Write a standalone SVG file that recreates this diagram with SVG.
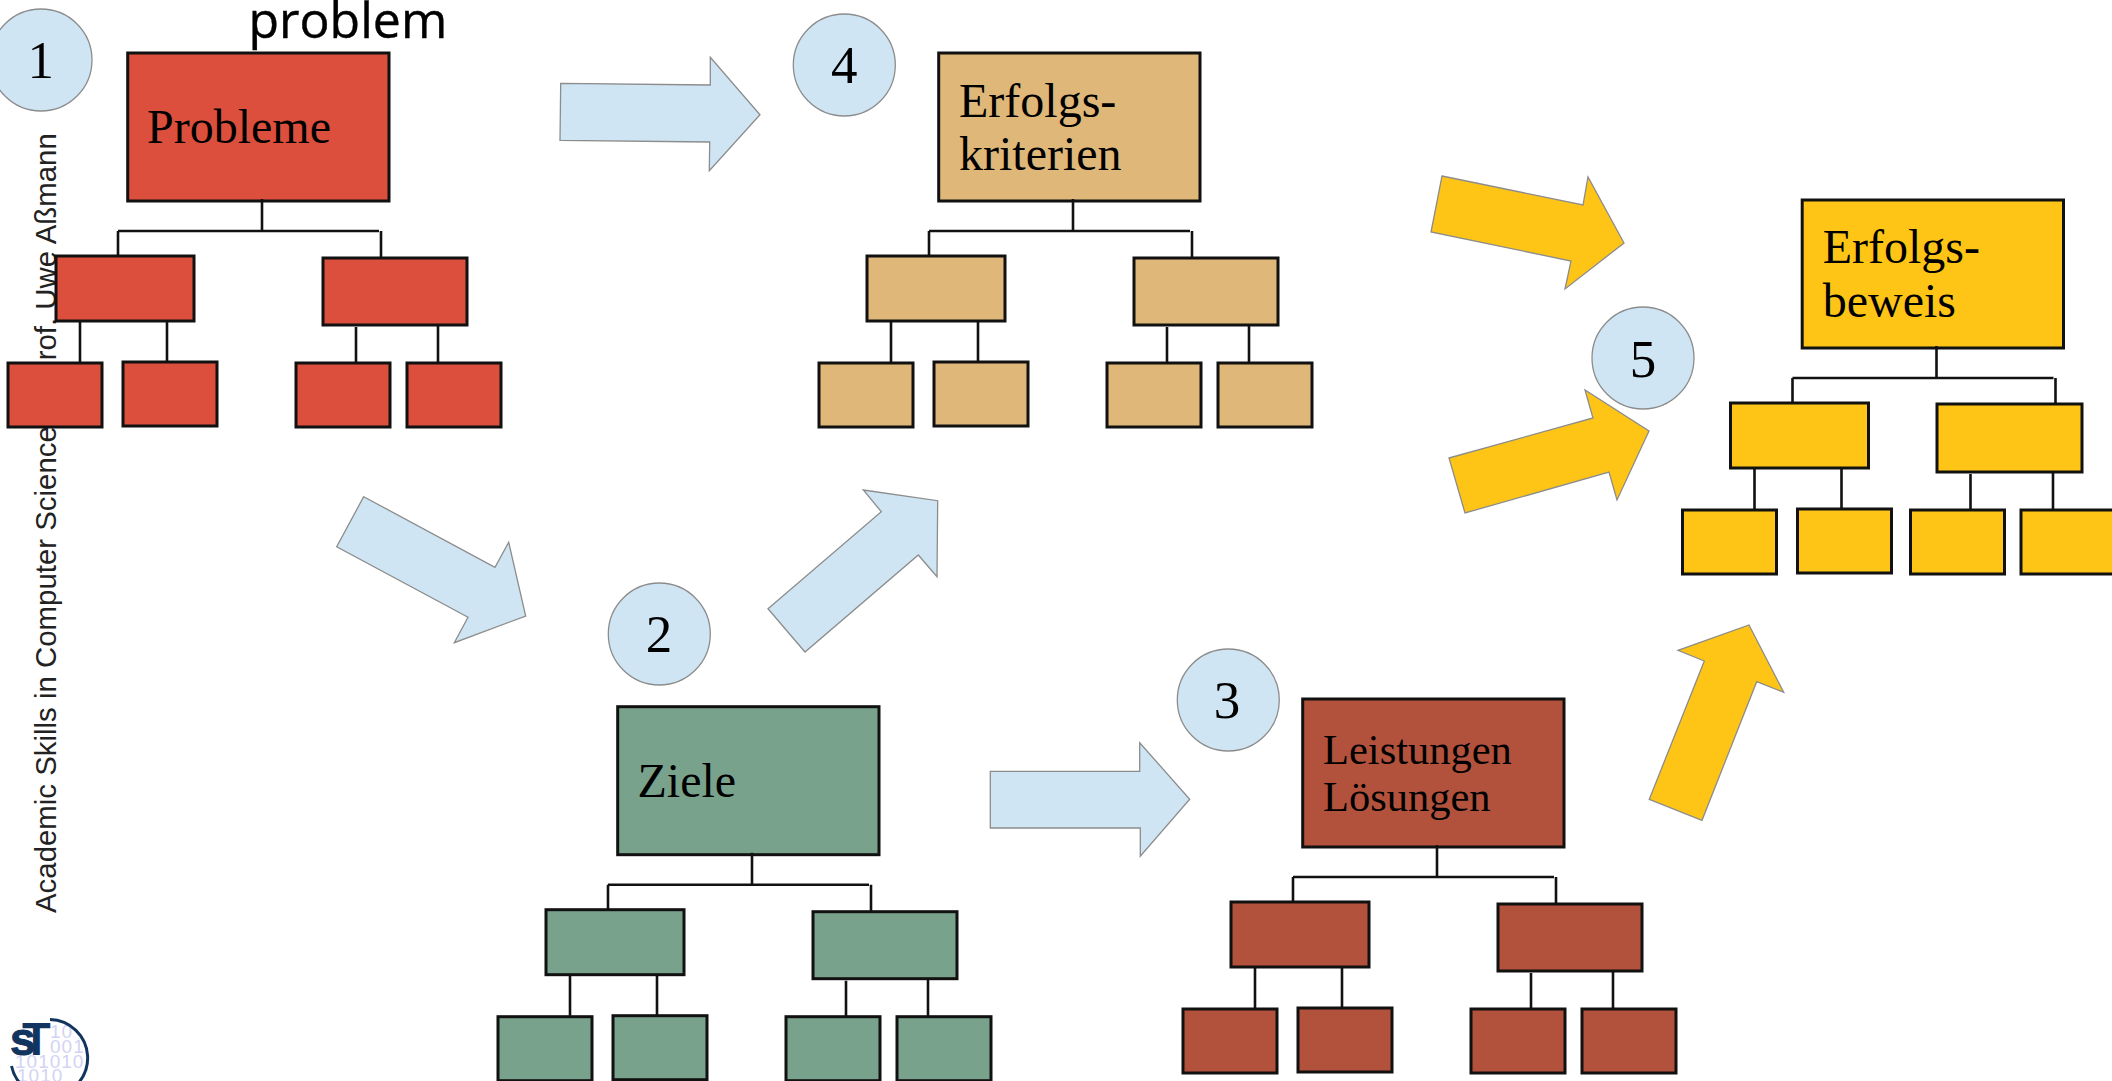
<svg xmlns="http://www.w3.org/2000/svg" xmlns:xlink="http://www.w3.org/1999/xlink" width="2112" height="1081" viewBox="0 0 2112 1081">
<style>
.b{stroke:#111;stroke-width:3}
.l{stroke:#111;stroke-width:2.6;fill:none}
.a{stroke:#8c8c8c;stroke-width:1.3;stroke-linejoin:miter}
.blue{fill:#cfe5f3}
.yel{fill:#fec516}
.c{fill:#cfe5f3;stroke:#8c8c8c;stroke-width:1.3}
.t{font-family:"Liberation Serif","Times New Roman",serif;font-size:48px;fill:#000}
.t2{font-family:"Liberation Serif","Times New Roman",serif;font-size:42.5px;fill:#000}
.n{font-family:"Liberation Serif","Times New Roman",serif;font-size:53px;fill:#000;text-anchor:middle}
.d{font-family:"Liberation Sans",Arial,sans-serif;font-size:19px;fill:#d3d3f4;letter-spacing:1px}
</style>
<defs>
<g id="treeL">
<rect class="b" x="127.7" y="53" width="261.3" height="148"/>
<path class="l" d="M262 199V230M118 231H379M118 231V257M381 231V258M80 320V362M167 320V362"/>
<rect class="b" x="56" y="256" width="138" height="65"/>
<rect class="b" x="8" y="363" width="94" height="64"/>
<rect class="b" x="123" y="362" width="94" height="64"/>
</g>
<g id="treeR">
<path class="l" d="M356 327V363M438 323V363"/>
<rect class="b" x="323" y="258" width="144" height="67"/>
<rect class="b" x="296" y="363" width="94" height="64"/>
<rect class="b" x="407" y="363" width="94" height="64"/>
</g>
<clipPath id="logoClip"><circle cx="49" cy="1058" r="38"/></clipPath>
</defs>
<rect width="2112" height="1081" fill="#fff"/>
<text id="sidebar" transform="translate(56,913) rotate(-90)" font-family="'Liberation Sans',Arial,sans-serif" font-size="29.4px" fill="#222">Academic Skills in Computer Science, <tspan dx="30">Prof. Uwe Aßmann</tspan></text>
<text id="title" x="248.5" y="38" font-family="'Open Sans','Noto Sans',sans-serif" font-size="50px" fill="#000" stroke="#000" stroke-width="0.4">problem</text>
<g id="logo">
<g clip-path="url(#logoClip)">
<text class="d" x="50" y="1038">10</text>
<text class="d" x="50" y="1053">001</text>
<text class="d" x="15" y="1068">101010</text>
<text class="d" x="17" y="1082">1010</text>
</g>
<path d="M50 1019.5A38.5 38.5 0 1 1 11.5 1066" fill="none" stroke="#12355f" stroke-width="3"/>
<text x="10" y="1055" font-family="'Liberation Sans',Arial,sans-serif" font-weight="700" font-size="46px" fill="#12355f" stroke="#12355f" stroke-width="1">s</text>
<text x="22" y="1055" font-family="'Liberation Sans',Arial,sans-serif" font-weight="700" font-size="47px" fill="#12355f">T</text>
</g>
<g id="connectors">
<polygon class="a blue" points="560.7,83.3 710.3,85 710.3,57.3 760,114.7 709.3,170.7 709.7,142 560,140.3"/>
<polygon class="a blue" points="363.7,496.7 495,567.3 508.7,542.3 525.7,616 454.3,642.7 468,617.3 336.7,546.7"/>
<polygon class="a blue" points="768,608.7 881.3,511.7 863.3,490 937.7,500.7 937,576.7 918.3,555 805,652"/>
<polygon class="a blue" points="990.3,771.3 1139.7,771.3 1139.7,742.7 1189.7,799.3 1140.3,856.3 1140.3,828 990.3,828"/>
<polygon class="a yel" points="1442,176 1583,205 1588,177 1624,243 1565,289 1571,261 1431,232"/>
<polygon class="a yel" points="1449,458 1593,418 1585,390 1649,431 1617,500 1609,472 1465,513"/>
<polygon class="a yel" points="1649.3,799.3 1704.3,661 1678,650.3 1749,625 1783.7,692.3 1756.7,681.7 1702,820.3"/>
</g>
<g id="node-probleme" fill="#dc4f3c"><use xlink:href="#treeL" href="#treeL"/><use xlink:href="#treeR" href="#treeR"/><text class="t" x="147" y="143">Probleme</text></g>
<g id="node-erfolgskriterien" fill="#deb779"><use xlink:href="#treeL" href="#treeL" x="811"/><use xlink:href="#treeR" href="#treeR" x="811"/><text class="t" x="959" y="117">Erfolgs-</text><text class="t" x="959" y="170">kriterien</text></g>
<g id="node-ziele" fill="#78a28c"><use xlink:href="#treeL" href="#treeL" x="490" y="653.7"/><use xlink:href="#treeR" href="#treeR" x="490" y="653.7"/><text class="t" x="637.5" y="797">Ziele</text></g>
<g id="node-leistungen" fill="#b2523d"><use xlink:href="#treeL" href="#treeL" x="1175" y="646"/><use xlink:href="#treeR" href="#treeR" x="1175" y="646"/><text class="t2" x="1323" y="764">Leistungen</text><text class="t2" x="1323" y="811">Lösungen</text></g>
<g id="node-erfolgsbeweis" fill="#fec516"><use xlink:href="#treeL" href="#treeL" x="1674.5" y="147"/>
<path class="l" d="M1970.5 474V510M2053 470V510"/>
<rect class="b" x="1937" y="404" width="145" height="68"/>
<rect class="b" x="1910.5" y="510" width="94" height="64"/>
<rect class="b" x="2021" y="510" width="94" height="64"/>
<text class="t" x="1822.7" y="263">Erfolgs-</text><text class="t" x="1822.7" y="317">beweis</text></g>
<g id="step-1"><circle class="c" cx="41" cy="60" r="51"/><text class="n" x="40.7" y="78">1</text></g>
<g id="step-2"><circle class="c" cx="659.3" cy="634" r="51"/><text class="n" x="659" y="652">2</text></g>
<g id="step-3"><circle class="c" cx="1228.3" cy="700" r="51"/><text class="n" x="1227" y="718">3</text></g>
<g id="step-4"><circle class="c" cx="844.3" cy="65" r="51"/><text class="n" x="844.3" y="83">4</text></g>
<g id="step-5"><circle class="c" cx="1643" cy="358" r="51"/><text class="n" x="1643" y="377">5</text></g>
</svg>
